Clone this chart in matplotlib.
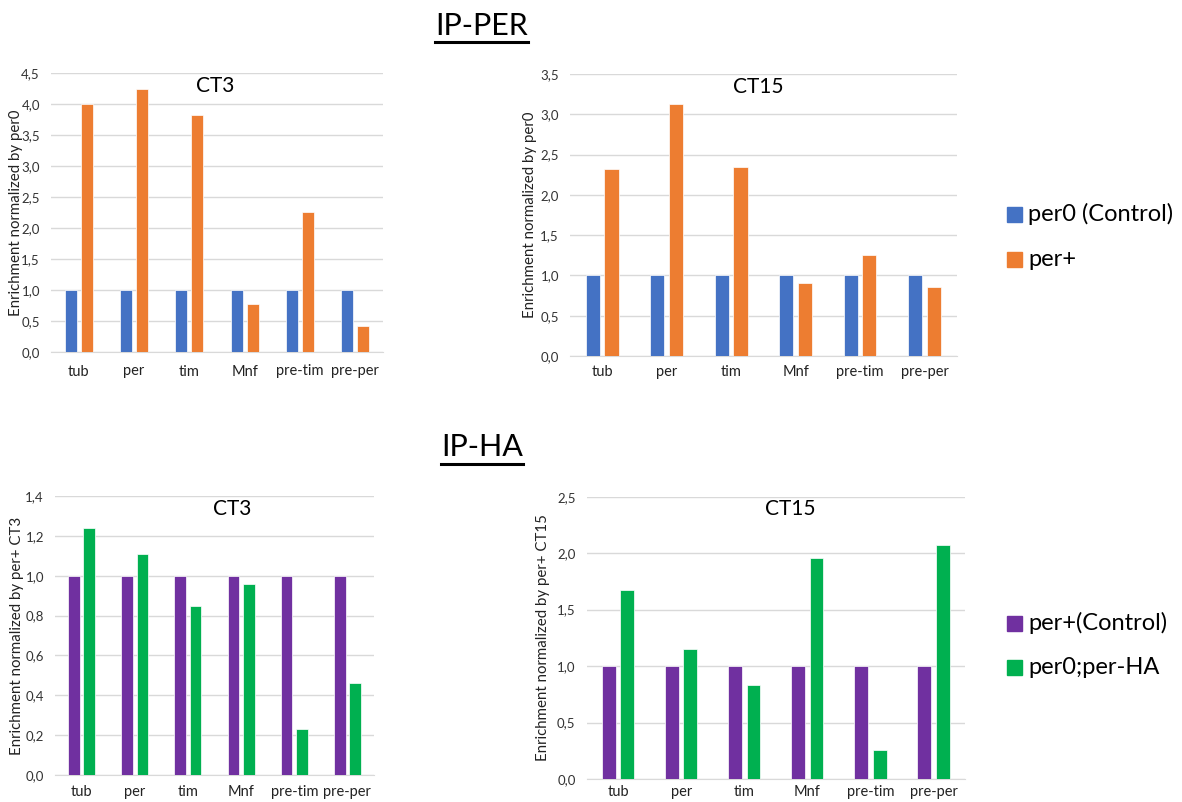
import matplotlib
matplotlib.use("Agg")
import matplotlib.pyplot as plt
from matplotlib.ticker import FuncFormatter, MultipleLocator
from matplotlib.patches import Rectangle
import numpy as np

plt.rcParams['font.family'] = ['Lato', 'DejaVu Sans']

categories = ["tub", "per", "tim", "Mnf", "pre-tim", "pre-per"]

# IP-PER
per0_ct3 = [1, 1, 1, 1, 1, 1]
perplus_ct3 = [4.00, 4.24, 3.83, 0.77, 2.26, 0.42]
per0_ct15 = [1, 1, 1, 1, 1, 1]
perplus_ct15 = [2.32, 3.13, 2.35, 0.91, 1.25, 0.86]

# IP-HA
perplus_ctrl_ct3 = [1, 1, 1, 1, 1, 1]
perHA_ct3 = [1.24, 1.11, 0.85, 0.96, 0.23, 0.46]
perplus_ctrl_ct15 = [1, 1, 1, 1, 1, 1]
perHA_ct15 = [1.67, 1.15, 0.83, 1.96, 0.26, 2.07]

BLUE, ORANGE, PURPLE, GREEN = "#4472C4", "#ED7D31", "#7030A0", "#00B050"

W, H = 1182, 802
fig = plt.figure(figsize=(W / 100, H / 100), dpi=100)


def axes_px(left, right, top, bottom):
    return fig.add_axes([left / W, 1 - bottom / H, (right - left) / W, (bottom - top) / H])


def comma(v, pos):
    return f"{v:.1f}".replace(".", ",")


def panel(ax, a, b, ca, cb, ymax, step, title, tx, ylabel, xlab_pad, ylab_x):
    x = np.arange(len(categories))
    w, off = 0.22, 0.145
    ax.bar(x - off, a, width=w, color=ca, edgecolor="white", linewidth=0.5, zorder=3)
    ax.bar(x + off, b, width=w, color=cb, edgecolor="white", linewidth=0.5, zorder=3)
    ax.set_xlim(-0.5, len(categories) - 0.5)
    ax.set_ylim(0, ymax)
    ax.yaxis.set_major_locator(MultipleLocator(step))
    ax.yaxis.set_major_formatter(FuncFormatter(comma))
    ax.set_xticks(x)
    ax.set_xticklabels(categories, fontsize=10.5, color="#222222")
    ax.grid(axis="y", color="#d9d9d9", linewidth=1, zorder=0)
    for s in ["top", "right", "left"]:
        ax.spines[s].set_visible(False)
    ax.spines["bottom"].set_color("#d9d9d9")
    ax.tick_params(axis="both", length=0)
    ax.tick_params(axis="y", labelsize=9.5, labelcolor="#333333", pad=8)
    ax.tick_params(axis="x", pad=xlab_pad)
    ax.set_ylabel(ylabel, fontsize=10.8, color="#222222")
    ax.yaxis.set_label_coords(ylab_x, 0.5)
    ax.text(tx, 0.955, title, transform=ax.transAxes, ha="center", va="center",
            fontsize=15, color="black")


ax1 = axes_px(51, 383, 73.3, 352)
panel(ax1, per0_ct3, perplus_ct3, BLUE, ORANGE, 4.5, 0.5, "CT3", 0.496,
      "Enrichment normalized by per0", 9, -0.084)
ax2 = axes_px(570, 956.7, 74, 356)
panel(ax2, per0_ct15, perplus_ct15, BLUE, ORANGE, 3.5, 0.5, "CT15", 0.486,
      "Enrichment normalized by per0", 6.5, -0.085)
ax3 = axes_px(55, 374, 496, 775)
panel(ax3, perplus_ctrl_ct3, perHA_ct3, PURPLE, GREEN, 1.4, 0.2, "CT3", 0.554,
      "Enrichment normalized by per+ CT3", 7, -0.098)
ax4 = axes_px(586.7, 965, 496.7, 779)
panel(ax4, perplus_ctrl_ct15, perHA_ct15, PURPLE, GREEN, 2.5, 0.5, "CT15", 0.537,
      "Enrichment normalized by per+ CT15", 4.3, -0.097)

# Section headings with underline
for label, cx, cy, uy in [("IP-PER", 481.5, 26, 42), ("IP-HA", 481.7, 447, 464)]:
    t = fig.text(cx / W, 1 - cy / H, label, ha="center", va="center", fontsize=22)
    fig.canvas.draw()
    bb = t.get_window_extent()
    fig.add_artist(plt.Line2D([bb.x0 / W, bb.x1 / W], [1 - uy / H, 1 - uy / H],
                              color="black", linewidth=2.2))

# Legends
def legend_item(y, color, label):
    fig.add_artist(Rectangle((1007 / W, 1 - (y + 7.5) / H), 15 / W, 15 / H,
                             color=color, transform=fig.transFigure))
    fig.text(1028 / W, 1 - y / H, label, ha="left", va="center", fontsize=17)

legend_item(214, BLUE, "per0 (Control)")
legend_item(259, ORANGE, "per+")
legend_item(623, PURPLE, "per+(Control)")
legend_item(667, GREEN, "per0;per-HA")

fig.savefig("out.png", dpi=100)
